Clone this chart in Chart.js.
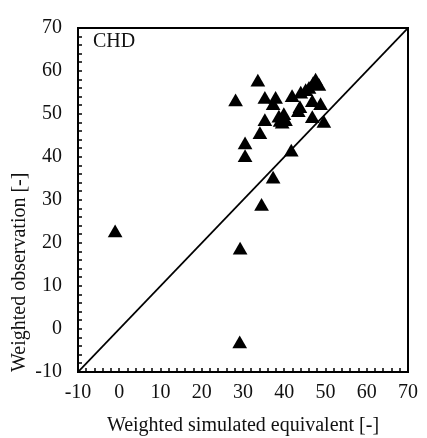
<!DOCTYPE html>
<html><head><meta charset="utf-8">
<script src="https://cdn.jsdelivr.net/npm/chart.js@4/dist/chart.umd.min.js"></script>
<style>html,body{margin:0;padding:0;background:#fff}#c{display:block}</style>
</head><body>
<canvas id="c" width="427" height="438"></canvas>
<script>
const simulated = [-1, 29.3, 29.2, 34.5, 37.3, 41.7, 30.5, 30.5, 34.1, 35.3, 28.2, 33.6, 35.3, 37.9, 37.3, 38.7, 39.0, 39.5, 40.3, 39.9, 41.9, 44.0, 43.8, 43.4, 46.0, 47.6, 48.4, 47.0, 46.8, 48.8, 46.8, 49.6, 45.2];
const observed  = [22.3, 18.3, -3.5, 28.5, 34.8, 41.1, 42.8, 39.8, 45.2, 48.2, 52.8, 57.4, 53.4, 53.4, 51.9, 49.0, 48.0, 47.6, 48.2, 49.6, 53.8, 54.6, 51.2, 50.3, 55.7, 57.6, 56.4, 56.8, 52.6, 51.9, 48.9, 47.8, 55.2];
const lineX = [-10, 70];
const lineY = [-10, 70];
const axisMin = -10, axisMax = 70;
const panelLabel = 'CHD';
const xTitle = 'Weighted simulated equivalent [-]';
const yTitle = 'Weighted observation [-]';

const pts = simulated.map((x, i) => ({x, y: observed[i]}));
const linePts = lineX.map((x, i) => ({x, y: lineY[i]}));
const FONT = "'Liberation Serif', 'DejaVu Serif', serif";

const decor = {
  id: 'decor',
  afterDraw(chart) {
    const ctx = chart.ctx, a = chart.chartArea;
    const xs = chart.scales.x, ys = chart.scales.y;
    ctx.save();
    ctx.strokeStyle = '#000';
    ctx.lineWidth = 2;
    ctx.strokeRect(a.left, a.top, a.right - a.left, a.bottom - a.top);
    ctx.lineWidth = 1.5;
    ctx.beginPath();
    xs.ticks.forEach(t => {
      const px = Math.round(xs.getPixelForValue(t.value));
      ctx.moveTo(px, a.bottom); ctx.lineTo(px, a.bottom - 4);
    });
    ys.ticks.forEach(t => {
      const py = Math.round(ys.getPixelForValue(t.value));
      ctx.moveTo(a.left, py); ctx.lineTo(a.left + 4, py);
    });
    ctx.stroke();
    ctx.fillStyle = '#111';
    ctx.font = "20px " + FONT;
    ctx.textBaseline = 'middle';
    ctx.textAlign = 'left';
    ctx.fillText(panelLabel, 93, 42);
    ctx.restore();
  }
};

new Chart(document.getElementById('c'), {
  data: {
    datasets: [
      {type: 'line', data: linePts, borderColor: '#000', borderWidth: 1.8, pointRadius: 0, fill: false, order: 2},
      {type: 'scatter', data: pts, pointStyle: 'triangle', pointRadius: 8.5, pointHoverRadius: 8.5,
       backgroundColor: '#000', borderColor: '#000', borderWidth: 0, order: 1}
    ]
  },
  options: {
    responsive: false, animation: false,
    layout: {padding: {top: 17, right: 13, left: 0, bottom: 0}},
    plugins: {legend: {display: false}, tooltip: {enabled: false}},
    scales: {
      x: {
        type: 'linear', min: axisMin, max: axisMax,
        ticks: {stepSize: 2, autoSkip: false, maxRotation: 0, color: '#111', padding: 9,
          font: {family: FONT, size: 20},
          callback: v => (Math.round(v) % 10 === 0 ? String(Math.round(v)) : '')},
        grid: {display: false, drawTicks: false},
        border: {display: false},
        title: {display: true, text: xTitle, color: '#111', font: {family: FONT, size: 20}, padding: {top: 6, bottom: 0}},
        afterFit: s => { s.height = 66; }
      },
      y: {
        type: 'linear', min: axisMin, max: axisMax,
        ticks: {stepSize: 2, autoSkip: false, color: '#111', padding: 16,
          font: {family: FONT, size: 20},
          callback: v => (Math.round(v) % 10 === 0 ? String(Math.round(v)) : '')},
        grid: {display: false, drawTicks: false},
        border: {display: false},
        title: {display: true, text: yTitle, align: 'start', color: '#111', font: {family: FONT, size: 20}, padding: {top: 8, bottom: 4}},
        afterFit: s => { s.width = 78; }
      }
    }
  },
  plugins: [decor]
});
</script>
</body></html>
